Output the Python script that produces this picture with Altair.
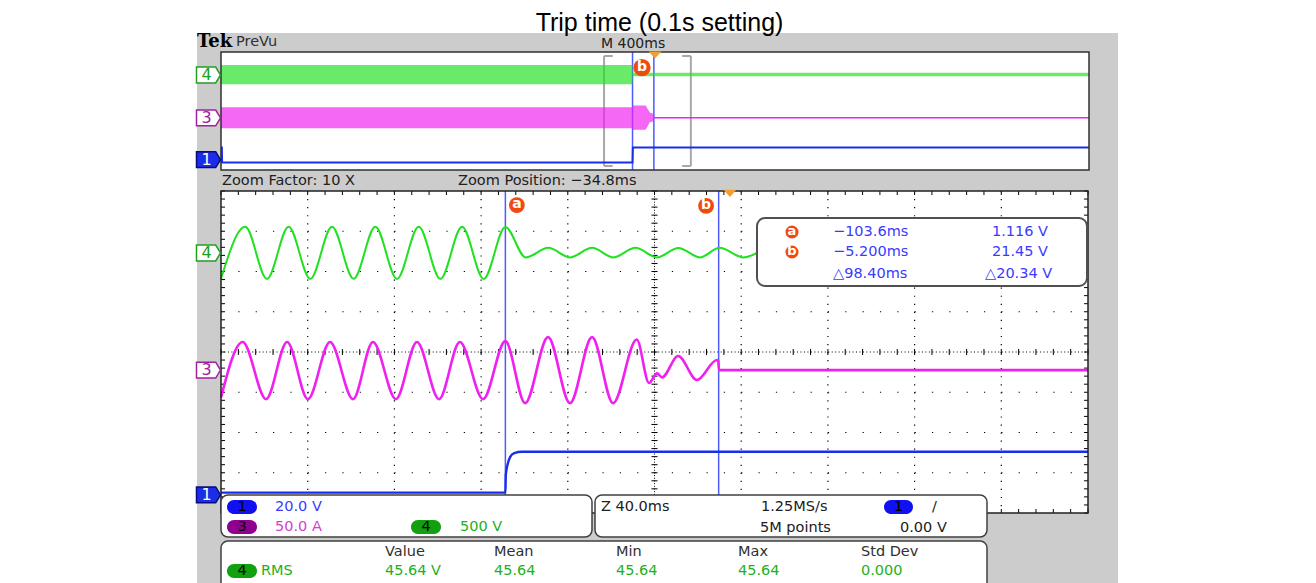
import altair as alt
import pandas as pd

# ---------------- values ----------------
TITLE = "Trip time (0.1s setting)"

MAIN_T = [-234.8, 165.2]      # zoom window (ms): 40 ms/div, zoom position -34.8 ms
OV_T = [-2000.0, 2000.0]      # PreVu record (ms): 400 ms/div
DIV = [-4.0, 4.0]             # 8 vertical divisions

ch_id = ["4", "3", "1"]
ch_per_div = [500.0, 50.0, 20.0]          # V/div, A/div, V/div
ch_offset = [2.46, -0.45, -3.55]          # ground markers (div)
ov_marker_offset = [2.44, -0.47, -3.3]

# Ch4 voltage (V): times (ms) of the extremes and their values
ch4_t = [-234.8, -223.6, -213.6, -203.6, -193.6, -183.6, -173.6, -163.6, -153.6, -143.6,
         -133.6, -123.6, -113.6, -103.6, -94.2, -83.8, -73.8, -63.6, -53.8, -43.6,
         -33.6, -23.8, -13.8, -4.8, 6.2, 16.2]
ch4_v = [-320, 325, -322, 326, -322, 326, -321, 325, -322, 326,
         -322, 325, -322, 322, -55, 64, -55, 64, -56, 64,
         -55, 63, -55, 64, -55, 62]

# Ch3 current (A)
ch3_t = [-234.8, -224.8, -214.0, -204.3, -194.7, -184.5, -173.9, -164.7, -154.1, -144.4,
         -134.2, -124.6, -113.9, -103.6, -94.5, -83.9, -73.8, -63.6, -53.9, -43.0,
         -37.3, -33.6, -31.3, -23.9, -15.2, -6.0, -5.4, -5.0, 165.2]
ch3_v = [-34, 35, -36, 35, -36, 35, -36, 35, -36, 35,
         -36, 35, -36, 36, -41, 41, -41, 41, -41, 38,
         -16, -4, -9, 17.5, -12.3, 12.6, 11.5, 0, 0]

# Ch1 trip signal (V)
ch1_t = [-234.8, -103.6, -103.4, -102.6, -101.3, -99.5, -96.0, 165.2]
ch1_v = [1.116, 1.116, 9.9, 15.0, 19.0, 20.8, 21.45, 21.45]

# PreVu (overview) envelopes
ov4_t = [-2000, -103.7, -103.5, 2000]
ov4_hi = [326, 326, 64, 64]
ov4_lo = [-322, -322, -55, -55]
ov3_t = [-2000, -103.7, -103.5, -43.0, -23.9, -6.0, -5.2]
ov3_hi = [35, 35, 41, 41, 17.5, 12.6, 1]
ov3_lo = [-36, -36, -41, -41, -16, -12.3, -1]
ov3_flat_t = [-5.2, 2000]
ov3_flat_v = [0, 0]
ov1_t = [-2000, -1996, -1995, -103.6, -102.0, 2000]
ov1_v = [21.45, 21.45, 1.116, 1.116, 21.45, 21.45]

cursor_t = [-103.6, -5.2]
cursor_lbl = ["a", "b"]
cursor_time_txt = ["\u2212103.6ms", "\u22125.200ms", "\u25b398.40ms"]
cursor_volt_txt = ["1.116 V", "21.45 V", "\u25b320.34 V"]

ch_info_txt = ["20.0 V", "50.0 A", "500 V"]
acq_txt = ["Z 40.0ms", "1.25MS/s", "5M points", "0.00 V"]
meas_head = ["Value", "Mean", "Min", "Max", "Std Dev"]
meas_val = ["45.64 V", "45.64", "45.64", "45.64", "0.000"]
meas_name = "RMS"
zoom_factor_txt = "Zoom Factor: 10 X"
zoom_pos_txt = "Zoom Position: \u221234.8ms"
timebase_txt = "M 400ms"

# ---------------- styles / layout ----------------
W, H = 1300, 575
GREEN = "#22e022"
MAG = "#f020f0"
BLUE = "#1a2ee8"
CUR = "#4d5bff"
ORANGE = "#f04a10"
TRIG = "#f0a030"
TXT_BLUE = "#3a3aff"
TXT_MAG = "#d040d0"
TXT_GREEN = "#22b022"
DARK = "#202020"
FONT = "DejaVu Sans"
FS = 14.5


def sc(domain, rng):
    return alt.Scale(domain=domain, range=rng, zero=False, nice=False)


PX = sc([8, 8 + W], [0, W])
PY = sc([8, 8 + H], [0, H])
MX = sc(MAIN_T, [221 - 8, 1088 - 8])
MY = sc(DIV, [513 - 8, 191 - 8])
OX = sc(OV_T, [221 - 8, 1089 - 8])
OY = sc(DIV, [170 - 8, 52 - 8])


def enc(sx, sy, x="x", y="y", x2=None, y2=None, **kw):
    e = dict(x=alt.X(x, type="quantitative", scale=sx, axis=None),
             y=alt.Y(y, type="quantitative", scale=sy, axis=None))
    if x2:
        e["x2"] = alt.X2(x2)
    if y2:
        e["y2"] = alt.Y2(y2)
    e.update(kw)
    return e


def rects(rows, **mk):
    df = pd.DataFrame(rows, columns=["x", "y", "x2", "y2"])
    return alt.Chart(df).mark_rect(**mk).encode(**enc(PX, PY, x2="x2", y2="y2"))


def texts(rows, **mk):
    df = pd.DataFrame(rows, columns=["x", "y", "s", "c"])
    base = dict(align="left", baseline="middle", font=FONT, fontSize=FS)
    base.update(mk)
    return alt.Chart(df).mark_text(**base).encode(
        **enc(PX, PY), text="s:N", color=alt.Color("c:N", scale=None))


def segs(rows, sx, sy, **mk):
    df = pd.DataFrame(rows, columns=["x", "y", "x2", "y2"])
    return alt.Chart(df).mark_rule(**mk).encode(**enc(sx, sy, x2="x2", y2="y2"))


layers = []

# screen background
layers.append(rects([(197, 33, 1118, 600)], color="#cccccc"))
# plot panels
layers.append(alt.Chart(pd.DataFrame({"x": [OV_T[0]], "x2": [OV_T[1]], "y": [DIV[0]], "y2": [DIV[1]]}))
              .mark_rect(color="white").encode(**enc(OX, OY, x2="x2", y2="y2")))
layers.append(alt.Chart(pd.DataFrame({"x": [MAIN_T[0]], "x2": [MAIN_T[1]], "y": [DIV[0]], "y2": [DIV[1]]}))
              .mark_rect(color="white").encode(**enc(MX, MY, x2="x2", y2="y2")))

# graticule of the zoom window
t0, t1 = MAIN_T
centre_t = (t0 + t1) / 2
div_t = [t0 + 40 * k for k in range(1, 10)]
vg = [(t, 4, t, -4) for t in div_t if abs(t - centre_t) > 1e-6]
hg = [(t0, d, t1, d) for d in [-3, -2, -1, 1, 2, 3]]
layers.append(segs(vg, MX, MY, color="black", strokeWidth=1.2, strokeDash=[1.2, 6.85]))
layers.append(segs(hg, MX, MY, color="black", strokeWidth=1.2, strokeDash=[1.2, 16.14]))
layers.append(segs([(centre_t, 4, centre_t, -4)], MX, MY, color="black", strokeWidth=1, strokeDash=[1, 1.68]))
layers.append(segs([(t0, 0, t1, 0)], MX, MY, color="black", strokeWidth=1, strokeDash=[1, 2.47]))
ticks = []
minor_t = [t0 + 8 * k for k in range(51)]
minor_d = [-4 + 0.2 * k for k in range(41)]
for t in minor_t:
    ticks.append((t, -0.075, t, 0.075))
    ticks.append((t, 4, t, 3.9))
    ticks.append((t, -4, t, -3.9))
for d in minor_d:
    ticks.append((centre_t - 1.4, d, centre_t + 1.4, d))
    ticks.append((t0, d, t0 + 1.85, d))
    ticks.append((t1 - 1.85, d, t1, d))
layers.append(segs(ticks, MX, MY, color="black", strokeWidth=1))

# zoom brackets in the overview
zb = [(MAIN_T[0], 3.73, MAIN_T[0], -3.73), (MAIN_T[0], 3.73, MAIN_T[0] + 40, 3.73),
      (MAIN_T[0], -3.73, MAIN_T[0] + 40, -3.73),
      (MAIN_T[1], 3.73, MAIN_T[1], -3.73), (MAIN_T[1] - 40, 3.73, MAIN_T[1], 3.73),
      (MAIN_T[1] - 40, -3.73, MAIN_T[1], -3.73)]
layers.append(segs(zb, OX, OY, color="#a8a8a8", strokeWidth=2))

# cursors
layers.append(segs([(t, 4, t, -4) for t in cursor_t], OX, OY, color=CUR, strokeWidth=1.5))
layers.append(segs([(t, 4, t, -4) for t in cursor_t], MX, MY, color=CUR, strokeWidth=1.5))


def conv(vals, i):
    return [ch_offset[i] + v / ch_per_div[i] for v in vals]


# overview traces
df = pd.DataFrame({"x": ov4_t, "y": conv(ov4_hi, 0), "y2": conv(ov4_lo, 0)})
layers.append(alt.Chart(df).mark_area(color=GREEN, opacity=0.68).encode(**enc(OX, OY, y2="y2")))
df = pd.DataFrame({"x": ov3_t, "y": conv(ov3_hi, 1), "y2": conv(ov3_lo, 1)})
layers.append(alt.Chart(df).mark_area(color=MAG, opacity=0.68).encode(**enc(OX, OY, y2="y2")))
df = pd.DataFrame({"x": ov3_flat_t, "y": conv(ov3_flat_v, 1)})
layers.append(alt.Chart(df).mark_line(color=MAG, strokeWidth=1.5).encode(**enc(OX, OY)))
df = pd.DataFrame({"x": ov1_t, "y": conv(ov1_v, 2)})
layers.append(alt.Chart(df).mark_line(color=BLUE, strokeWidth=2).encode(**enc(OX, OY)))

# zoom-window traces
df = pd.DataFrame({"x": ch4_t, "y": conv(ch4_v, 0)})
layers.append(alt.Chart(df).mark_line(color=GREEN, strokeWidth=2, interpolate="monotone").encode(**enc(MX, MY)))
df = pd.DataFrame({"x": ch3_t, "y": conv(ch3_v, 1)})
layers.append(alt.Chart(df).mark_line(color=MAG, strokeWidth=2.6, interpolate="monotone").encode(**enc(MX, MY)))
df = pd.DataFrame({"x": ch1_t, "y": conv(ch1_v, 2)})
layers.append(alt.Chart(df).mark_line(color=BLUE, strokeWidth=2.4, interpolate="monotone").encode(**enc(MX, MY)))

# panel borders
layers.append(alt.Chart(pd.DataFrame({"x": [OV_T[0]], "x2": [OV_T[1]], "y": [DIV[0]], "y2": [DIV[1]]}))
              .mark_rect(fill=None, fillOpacity=0, stroke="#303030", strokeWidth=1.5)
              .encode(**enc(OX, OY, x2="x2", y2="y2")))
layers.append(alt.Chart(pd.DataFrame({"x": [MAIN_T[0]], "x2": [MAIN_T[1]], "y": [DIV[0]], "y2": [DIV[1]]}))
              .mark_rect(fill=None, fillOpacity=0, stroke="#202020", strokeWidth=1.5)
              .encode(**enc(MX, MY, x2="x2", y2="y2")))

# trigger markers
TRI = "M-1,-0.55L1,-0.55L0,0.55Z"
layers.append(alt.Chart(pd.DataFrame({"x": [0.0], "y": [3.94]})).mark_point(
    shape=TRI, size=169, filled=True, color=TRIG, opacity=1).encode(**enc(MX, MY)))
layers.append(alt.Chart(pd.DataFrame({"x": [0.0], "y": [3.8]})).mark_point(
    shape=TRI, size=169, filled=True, color=TRIG, opacity=1).encode(**enc(OX, OY)))

# cursor labels
lab_main = pd.DataFrame({"x": [cursor_t[0] + 5.3, cursor_t[1] - 5.8], "y": [3.65, 3.63], "s": cursor_lbl})
lab_ov = pd.DataFrame({"x": [-60.0], "y": [2.94], "s": ["b"]})
for d, sx, sy, sz in [(lab_main, MX, MY, 250), (lab_ov, OX, OY, 300)]:
    layers.append(alt.Chart(d).mark_point(shape="circle", size=sz, filled=True, color=ORANGE, opacity=1)
                  .encode(**enc(sx, sy)))
    layers.append(alt.Chart(d).mark_text(color="white", font=FONT, fontSize=14, fontWeight="bold",
                                         baseline="middle", dy=-1).encode(**enc(sx, sy), text="s:N"))

# cursor readout box
layers.append(rects([(757, 218, 1087, 286)], fill="white", stroke="#505050", strokeWidth=2, cornerRadius=8))
circ = pd.DataFrame({"x": [792, 792], "y": [232, 252], "s": cursor_lbl})
layers.append(alt.Chart(circ).mark_point(shape="circle", size=170, filled=True, color=ORANGE, opacity=1)
              .encode(**enc(PX, PY)))
layers.append(alt.Chart(circ).mark_text(color="white", font=FONT, fontSize=13, fontWeight="bold",
                                        baseline="middle", dy=-1).encode(**enc(PX, PY), text="s:N"))
layers.append(texts([(833, 232, cursor_time_txt[0], TXT_BLUE), (833, 252, cursor_time_txt[1], TXT_BLUE),
                     (833, 274, cursor_time_txt[2], TXT_BLUE),
                     (992, 232, cursor_volt_txt[0], TXT_BLUE), (992, 252, cursor_volt_txt[1], TXT_BLUE),
                     (985, 274, cursor_volt_txt[2], TXT_BLUE)]))

# info boxes
layers.append(rects([(221, 495, 592, 537), (595, 495, 987, 537), (221, 541, 987, 610)],
                    fill="white", stroke="#404040", strokeWidth=1.5, cornerRadius=7))
pills = pd.DataFrame([(227, 500, 257, 514, "#1010f0"), (227, 520, 257, 534, "#900090"),
                      (411, 520, 441, 534, "#10a010"), (884, 500, 913, 514, "#1010f0"),
                      (227, 564, 257, 578, "#10a010")], columns=["x", "y", "x2", "y2", "c"])
layers.append(alt.Chart(pills).mark_rect(cornerRadius=7).encode(
    **enc(PX, PY, x2="x2", y2="y2"), color=alt.Color("c:N", scale=None)))
layers.append(texts([(242, 507, "1", "black"), (242, 527, "3", "black"), (426, 527, "4", "black"),
                     (898.5, 507, "1", "black"), (242, 571, "4", "black")], align="center"))
layers.append(texts([(275, 507, ch_info_txt[0], TXT_BLUE), (275, 527, ch_info_txt[1], TXT_MAG),
                     (460, 527, ch_info_txt[2], TXT_GREEN),
                     (601, 507, acq_txt[0], DARK), (761, 507, acq_txt[1], DARK),
                     (760, 528, acq_txt[2], DARK), (900, 528, acq_txt[3], DARK),
                     (932, 507, "/", DARK)]))
head_x = [385, 494, 616, 738, 861]
layers.append(texts([(x, 552, s, "#303030") for x, s in zip(head_x, meas_head)]))
layers.append(texts([(x, 571, s, TXT_GREEN) for x, s in zip(head_x, meas_val)] +
                    [(261, 571, meas_name, TXT_GREEN)]))

# channel ground markers
TAG = "M-1,-0.66L0.6,-0.66L1,0L0.6,0.66L-1,0.66Z"
mk_fill = ["white", "white", "#1a2ee8"]
mk_stroke = ["#20a020", "#a020a0", "#0a0a80"]
mk_txt = ["#20a020", "#a020a0", "white"]
for sx, sy, xpos, offs in [(MX, MY, MAIN_T[0] - 5.77, ch_offset), (OX, OY, OV_T[0] - 57.6, ov_marker_offset)]:
    d = pd.DataFrame({"x": [xpos] * 3, "y": offs, "s": ch_id, "f": mk_fill, "k": mk_stroke, "c": mk_txt})
    layers.append(alt.Chart(d).mark_point(shape=TAG, size=576, filled=True, opacity=1, strokeWidth=1.5)
                  .encode(**enc(sx, sy), fill=alt.Fill("f:N", scale=None), stroke=alt.Stroke("k:N", scale=None)))
    layers.append(alt.Chart(d).mark_text(font=FONT, fontSize=16, baseline="middle", dx=-2)
                  .encode(**enc(sx, sy), text="s:N", color=alt.Color("c:N", scale=None)))

# header texts
layers.append(texts([(197, 42, "Tek", "black")], font="DejaVu Serif", fontSize=18, fontWeight="bold"))
layers.append(texts([(236, 42, "PreVu", "#303030")]))
layers.append(texts([(601, 43.5, timebase_txt, DARK)], fontSize=14))
layers.append(texts([(222, 181, zoom_factor_txt, DARK), (458, 181, zoom_pos_txt, DARK)]))
layers.append(texts([(659.5, 31, TITLE, "black")], font="Liberation Sans", fontSize=25,
                    align="center", baseline="alphabetic"))

chart = (alt.layer(*layers)
         .resolve_scale(x="independent", y="independent")
         .properties(width=W, height=H, padding=0, background="white",
                     autosize=alt.AutoSizeParams(type="none"))
         .configure_view(stroke=None))

chart.save("out.html", embed_options={"renderer": "svg", "actions": False})
